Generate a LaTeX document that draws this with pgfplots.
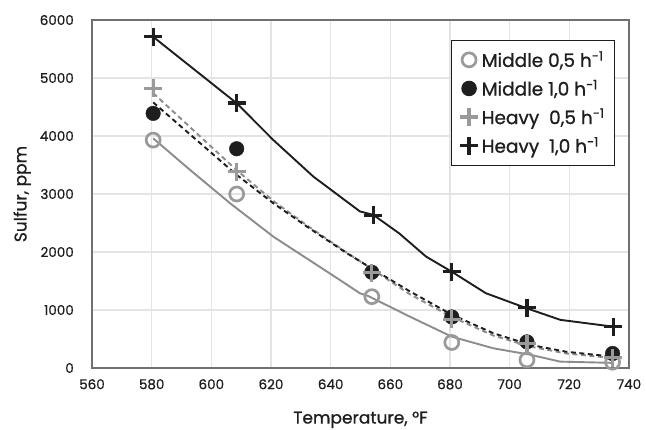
\documentclass[border=0pt]{standalone}
\usepackage{pgfplots}
\pgfplotsset{compat=1.18}
\usepackage{fontspec}
\setmainfont{Poppins}[UprightFeatures={FakeBold=0.8}]
\definecolor{gmark}{HTML}{9A9A9A}
\definecolor{gline}{HTML}{8C8C8C}
\definecolor{blk}{HTML}{1E1E1E}
\definecolor{gridc}{HTML}{E4E4E4}
\definecolor{frame}{HTML}{707070}
\begin{document}
\begin{tikzpicture}
\path[use as bounding box] (0,0) rectangle (646bp,430bp);
\begin{axis}[
  at={(92bp,62bp)}, anchor=south west,
  scale only axis, width=537bp, height=348bp,
  xmin=560, xmax=740, ymin=0, ymax=6000,
  xtick={560,580,...,740}, ytick={0,1000,...,6000},
  major tick length=0pt,
  grid=major,
  major grid style={draw=gridc, line width=1.4bp},
  axis line style={draw=frame, line width=1.2bp},
  /pgf/number format/1000 sep={},
  /pgf/number format/assume math mode=true,
  ticklabel style={font=\fontsize{13.5bp}{15bp}\selectfont, text=blk},
  yticklabel style={inner sep=0pt, xshift=-18bp},
  xticklabel style={inner sep=0pt, yshift=-11bp},
  xlabel={Temperature, °F},
  ylabel={Sulfur, ppm},
  label style={font=\fontsize{17bp}{19bp}\selectfont, text=blk},
  xlabel style={at={(axis description cs:0.5,-0.149)}, anchor=center},
  ylabel style={at={(axis description cs:-0.130,0.5)}, anchor=center},
  legend style={at={(0.974,0.943)}, anchor=north east, draw=blk, line width=0.9bp,
    fill=white, text=blk, font=\fontsize{18.5bp}{20bp}\selectfont,
    nodes={font=\fontsize{18.5bp}{20bp}\selectfont, inner sep=2bp},
    row sep=7.5bp, inner xsep=8bp, inner ysep=9bp},
  legend cell align=left,
  legend image code/.code={\path (0bp,0bp) (17bp,0bp); \draw[#1] plot coordinates {(8bp,0bp)};},
]
% fitted model curves
\addplot[forget plot, no marks, gline, line width=1.9bp] coordinates {
(580.5,3960) (592.9,3414) (606.3,2840) (620.8,2264) (643.1,1517) (649.8,1288) (652.6,1241)
(666.6,884) (680.6,540) (694.5,340) (706.8,230) (716.9,110) (734.8,88)};
\addplot[forget plot, no marks, gline, line width=1.9bp, dash pattern=on 5bp off 3.5bp] coordinates {
(580.5,4740) (608.5,3410) (620.8,2880) (632,2460) (645.4,1990) (654.3,1690)
(666.6,1270) (680.6,880) (694.5,560) (706.8,370) (719,250) (734.8,170)};
\addplot[forget plot, no marks, blk, line width=1.9bp, dash pattern=on 5bp off 3.5bp] coordinates {
(580.5,4580) (608.5,3330) (620.8,2840) (632,2440) (645.4,1980) (654.3,1700)
(666.6,1320) (680.6,920) (694.5,600) (706.8,400) (719,280) (734.8,195)};
\addplot[forget plot, no marks, blk, line width=1.9bp] coordinates {
(580.5,5710) (608.5,4565) (620.8,3930) (634.2,3300) (649.8,2700) (654.3,2640) (663,2320)
(672,1920) (680.6,1660) (692,1290) (705.7,1030) (717,830) (734.8,712)};
% measured data
\addplot[only marks, mark=o, gmark, line width=2.7bp, mark size=7bp] coordinates {
(580.5,3930) (608.5,3000) (653.8,1230) (680.6,440) (705.8,140) (734.5,100)};
\addlegendentry{Middle 0,5 h\textsuperscript{-1}}
\addplot[only marks, mark=*, blk, mark size=7.3bp] coordinates {
(580.5,4390) (608.5,3780) (653.8,1650) (680.6,880) (705.8,450) (734.5,250)};
\addlegendentry{Middle 1,0 h\textsuperscript{-1}}
\addplot[only marks, mark=+, gmark, line width=3.2bp, mark size=9bp] coordinates {
(580.5,4820) (608.5,3385) (653.8,1640) (680.6,840) (705.8,420) (734.5,180)};
\addlegendentry{Heavy\ \ 0,5 h\textsuperscript{-1}}
\addplot[only marks, mark=+, blk, line width=3.2bp, mark size=9bp] coordinates {
(580.5,5710) (608.5,4570) (654.3,2630) (680.6,1660) (705.8,1040) (734.8,715)};
\addlegendentry{Heavy\ \ 1,0 h\textsuperscript{-1}}
\end{axis}
\end{tikzpicture}
\end{document}
